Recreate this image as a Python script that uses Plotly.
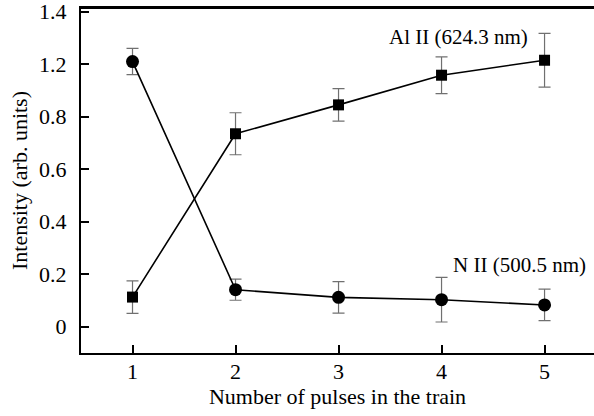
import plotly.graph_objects as go

pulses = [1, 2, 3, 4, 5]
# values in axis-position units (tick labels as printed on the original axis)
n_ii = [1.01, 0.141, 0.112, 0.103, 0.083]
n_ii_err = [0.05, 0.04, 0.06, 0.085, 0.06]
al_ii = [0.113, 0.735, 0.845, 0.958, 1.015]
al_ii_err = [0.062, 0.08, 0.062, 0.07, 0.102]
y_tickvals = [0, 0.2, 0.4, 0.6, 0.8, 1.0, 1.2]
y_ticktext = ["0", "0.2", "0.4", "0.6", "0.8", "1.2", "1.4"]
x_ticks = [1, 2, 3, 4, 5]

FONT = "Liberation Serif"

fig = go.Figure()
err_style = dict(type="data", thickness=1.2, width=6, color="#707070")
fig.add_trace(go.Scatter(
    x=pulses, y=al_ii, mode="lines+markers",
    error_y=dict(array=al_ii_err, **err_style),
    line=dict(color="black", width=1.6),
    marker=dict(symbol="square", size=11, color="black"),
    showlegend=False))
fig.add_trace(go.Scatter(
    x=pulses, y=n_ii, mode="lines+markers",
    error_y=dict(array=n_ii_err, **err_style),
    line=dict(color="black", width=1.6),
    marker=dict(symbol="circle", size=13, color="black"),
    showlegend=False))

fig.add_annotation(x=4.16, y=1.105, text="Al II (624.3 nm)", showarrow=False,
                   font=dict(family=FONT, size=21, color="black"))
fig.add_annotation(x=4.76, y=0.236, text="N II (500.5 nm)", showarrow=False,
                   font=dict(family=FONT, size=21, color="black"))
# top frame line
fig.add_shape(type="line", xref="paper", yref="paper", x0=0, x1=1, y0=1, y1=1,
              line=dict(color="black", width=2), layer="above")

fig.update_layout(
    width=594, height=416,
    margin=dict(l=81, r=0, t=8, b=63),
    paper_bgcolor="white", plot_bgcolor="white",
    font=dict(family=FONT, size=22, color="black"),
)
fig.update_xaxes(
    range=[0.5, 5.48], tickvals=x_ticks, ticks="inside", ticklen=8, tickwidth=1.5,
    tickcolor="black", showline=True, linecolor="black", linewidth=2, mirror=True,
    showgrid=False, zeroline=False, ticklabelstandoff=-2, automargin=False,
    ticklabeloverflow="allow",
    tickfont=dict(family=FONT, size=22, color="black"),
    title=dict(text="Number of pulses in the train", font=dict(family=FONT, size=22), standoff=2),
)
fig.update_yaxes(
    range=[-0.1, 1.214], tickvals=y_tickvals, ticktext=y_ticktext,
    ticks="inside", ticklen=8, tickwidth=1.5, tickcolor="black",
    showline=True, linecolor="black", linewidth=2, showgrid=False, zeroline=False,
    ticklabelstandoff=8, automargin=False, ticklabeloverflow="allow",
    tickfont=dict(family=FONT, size=22, color="black"),
    title=dict(text="Intensity (arb. units)", font=dict(family=FONT, size=22), standoff=5),
)

fig.write_html("out.html", config={"displayModeBar": False},
               post_script="document.body.style.margin='0';")
